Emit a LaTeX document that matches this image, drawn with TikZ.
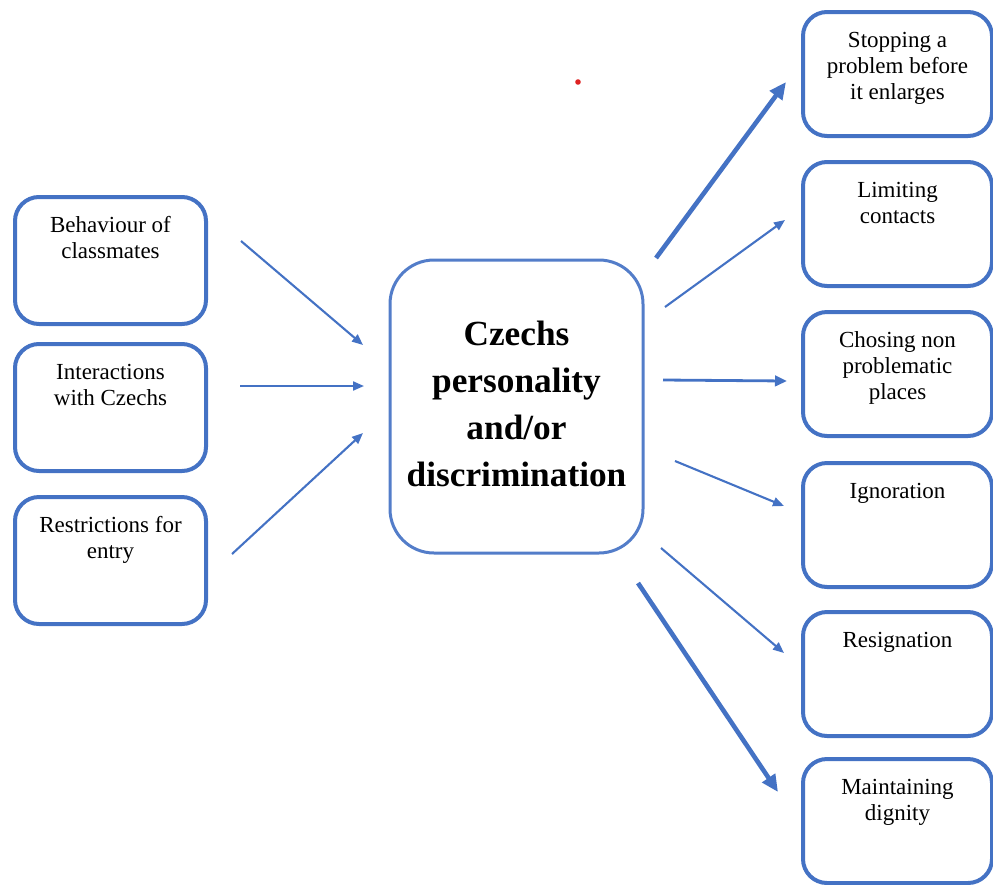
\documentclass[tikz,border=0pt]{standalone}
\usepackage{fontspec}
\setmainfont{Liberation Serif}
\usetikzlibrary{arrows.meta}
\definecolor{boxblue}{HTML}{4472C4}
\definecolor{dotred}{RGB}{222,34,34}
\begin{document}
\begin{tikzpicture}[x=1pt,y=-1pt,
  box/.style={draw=boxblue, line width=4pt, rounded corners=24pt,
    anchor=north west, inner sep=0pt, outer sep=0pt},
  lbox/.style={box, minimum width=191pt, minimum height=127pt},
  rbox/.style={box, minimum width=189pt, minimum height=124pt},
  cbox/.style={draw=boxblue!92!white, line width=3pt, rounded corners=44pt,
    anchor=north west, inner sep=0pt, minimum width=253pt, minimum height=293pt},
  txt/.style={anchor=north, inner sep=0pt, align=center,
    font=\fontsize{23}{26}\selectfont},
  ctxt/.style={anchor=center, inner sep=0pt, align=center,
    font=\fontsize{35.3}{47}\selectfont\bfseries},
  thinarrow/.style={draw=boxblue, line width=2.1pt,
    -{Triangle[length=11pt,width=9pt]}},
  midarrow/.style={draw=boxblue, line width=2.8pt,
    -{Triangle[length=12pt,width=10.5pt]}},
  thickarrow/.style={draw=boxblue, line width=4.6pt,
    -{Triangle[length=17pt,width=15pt]}},
]
\useasboundingbox (0,0) rectangle (993,884);

% causes on the left
\node[lbox] (b1) at (15,197) {};
\node[lbox] (b2) at (15,344) {};
\node[lbox] (b3) at (15,497) {};
\node[txt] (t1) at ([yshift=-17.3pt]b1.north) {\strut Behaviour of\\classmates};
\node[txt] (t2) at ([yshift=-17.3pt]b2.north) {\strut Interactions\\with Czechs};
\node[txt] (t3) at ([yshift=-17.3pt]b3.north) {\strut Restrictions for\\entry};

% central box
\node[cbox] (c) at (388.5,258.5) {};
\node[ctxt] (ct) at ([yshift=3pt]c.center) {Czechs\\personality\\and/or\\discrimination};

% coping strategies on the right
\node[rbox] (r1) at (803,12) {};
\node[rbox] (r2) at (803,162) {};
\node[rbox] (r3) at (803,312) {};
\node[rbox] (r4) at (803,463) {};
\node[rbox] (r5) at (803,612) {};
\node[rbox] (r6) at (803,759) {};
\node[txt] (s1) at ([yshift=-17.3pt]r1.north) {\strut Stopping a\\problem before\\it enlarges};
\node[txt] (s2) at ([yshift=-17.3pt]r2.north) {\strut Limiting\\contacts};
\node[txt] (s3) at ([yshift=-17.3pt]r3.north) {\strut Chosing non\\problematic\\places};
\node[txt] (s4) at ([yshift=-17.3pt]r4.north) {\strut Ignoration};
\node[txt] (s5) at ([yshift=-17.3pt]r5.north) {\strut Resignation};
\node[txt] (s6) at ([yshift=-17.3pt]r6.north) {\strut Maintaining\\dignity};

% arrow end points
\coordinate (a1s) at (241,241); \coordinate (a1e) at (363,345);
\coordinate (a2s) at (240,386); \coordinate (a2e) at (364,386);
\coordinate (a3s) at (232,554); \coordinate (a3e) at (363,433);
\coordinate (o1s) at (656,258); \coordinate (o1e) at (786,82);
\coordinate (o2s) at (665,307); \coordinate (o2e) at (785,220);
\coordinate (o3s) at (663,380); \coordinate (o3e) at (787,381);
\coordinate (o4s) at (675,461); \coordinate (o4e) at (784,506);
\coordinate (o5s) at (661,548); \coordinate (o5e) at (784,653);
\coordinate (o6s) at (638,583); \coordinate (o6e) at (778,792);

\draw[thinarrow] (a1s) -- (a1e);
\draw[thinarrow] (a2s) -- (a2e);
\draw[thinarrow] (a3s) -- (a3e);
\draw[thickarrow] (o1s) -- (o1e);
\draw[thinarrow] (o2s) -- (o2e);
\draw[midarrow] (o3s) -- (o3e);
\draw[thinarrow] (o4s) -- (o4e);
\draw[thinarrow] (o5s) -- (o5e);
\draw[thickarrow] (o6s) -- (o6e);

% small red mark
\fill[dotred] (578,82) circle (2.8pt);
\end{tikzpicture}
\end{document}
